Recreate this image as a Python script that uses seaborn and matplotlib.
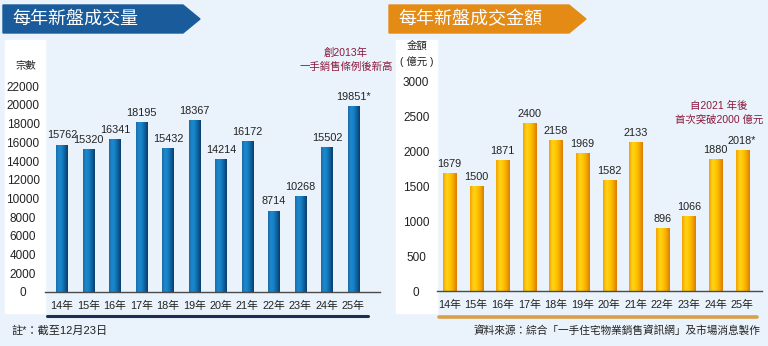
import numpy as np
import pandas as pd
import matplotlib
matplotlib.use("Agg")
import matplotlib.pyplot as plt
import seaborn as sns
from matplotlib.patches import Polygon, Rectangle
from matplotlib.lines import Line2D
from matplotlib.colors import LinearSegmentedColormap

# ---------------- data ----------------
years = ["14年", "15年", "16年", "17年", "18年", "19年", "20年", "21年", "22年", "23年", "24年", "25年"]
volume = [15762, 15320, 16341, 18195, 15432, 18367, 14214, 16172, 8714, 10268, 15502, 19851]
volume_labels = ["15762", "15320", "16341", "18195", "15432", "18367", "14214", "16172", "8714", "10268", "15502", "19851*"]
amount = [1679, 1500, 1871, 2400, 2158, 1969, 1582, 2133, 896, 1066, 1880, 2018]
amount_labels = ["1679", "1500", "1871", "2400", "2158", "1969", "1582", "2133", "896", "1066", "1880", "2018*"]
volume_ticks = list(range(0, 22001, 2000))
amount_ticks = list(range(0, 3001, 500))

title_left = "每年新盤成交量"
title_right = "每年新盤成交金額"
ylabel_left = "宗數"
ylabel_right = "金額\n( 億元 )"
note_left = "創2013年\n一手銷售條例後新高"
note_right = "自2021 年後\n首次突破2000 億元"
foot_left = "註*：截至12月23日"
foot_right = "資料來源：綜合「一手住宅物業銷售資訊網」及市場消息製作"

# ---------------- style ----------------
sns.set_theme(style="white")
plt.rcParams["font.family"] = ["Liberation Sans", "Noto Sans CJK TC", "DejaVu Sans"]
CJK = ["Noto Sans CJK TC", "DejaVu Sans"]

W, H = 768, 346
BG = "#eaf3fb"
fig = plt.figure(figsize=(W / 100, H / 100), dpi=100)
fig.patch.set_facecolor(BG)


def fx(x):
    return x / W


def fy(y):
    return 1 - y / H


def px_rect(x0, y0, x1, y1, **kw):
    fig.add_artist(Rectangle((fx(x0), fy(y1)), (x1 - x0) / W, (y1 - y0) / H,
                             transform=fig.transFigure, **kw))


# white strips for y tick labels
px_rect(5, 40, 45, 313, color="white", zorder=0)
px_rect(396, 40, 437, 313, color="white", zorder=0)

# banners
def banner(x0, x1, tip, color, text):
    pts = [(x0, 5), (x1, 5), (tip, 19), (x1, 33), (x0, 33)]
    fig.add_artist(Polygon([(fx(a), fy(b)) for a, b in pts], closed=True,
                           transform=fig.transFigure, color=color, zorder=1))
    fig.text(fx(x0 + 9), fy(19.5), text, color="white", fontsize=13,
             va="center", ha="left", zorder=2, family=CJK)


banner(3, 183, 200, "#1a5b9b", title_left)
banner(389, 569, 586, "#e48b15", title_right)

blue_cmap = LinearSegmentedColormap.from_list(
    "b", ["#1c6aa6", "#1b8ad0", "#1680c4", "#0f5f9c", "#0a3c6e"])
gold_cmap = LinearSegmentedColormap.from_list(
    "g", ["#f0a000", "#ffd21a", "#ffc800", "#f3a800", "#dc7a00"])


def draw_panel(ax, values, labels, ticks, color, cmap, xlim, ylim, ypad, bar_w):
    sns.barplot(x=years, y=values, ax=ax, color=color, width=bar_w,
                saturation=1, edgecolor="none")
    ax.set_facecolor("none")
    grad = np.linspace(0, 1, 64)[np.newaxis, :]
    for p in list(ax.patches):
        x0, y0 = p.get_x(), p.get_y()
        x1, y1 = x0 + p.get_width(), y0 + p.get_height()
        im = ax.imshow(grad, extent=[x0, x1, y0, y1], aspect="auto", cmap=cmap,
                       zorder=p.get_zorder() + 0.1, interpolation="bicubic")
        im.set_clip_path(p)
    ax.set_xlim(*xlim)
    ax.set_ylim(*ylim)
    ax.bar_label(ax.containers[0], labels=labels, padding=3, fontsize=7.8,
                 color="#222222")
    for s in ["top", "right", "left"]:
        ax.spines[s].set_visible(False)
    ax.spines["bottom"].set_color("#4a4a4a")
    ax.spines["bottom"].set_linewidth(1.0)
    ax.set_yticks(ticks)
    ax.set_yticklabels([str(t) for t in ticks])
    for lbl in ax.get_yticklabels():
        lbl.set_horizontalalignment("center")
    ax.tick_params(axis="y", length=0, pad=ypad, labelsize=8.5, labelcolor="#222222")
    ax.tick_params(axis="x", length=0, pad=6.5, labelsize=7.8, labelcolor="#222222")
    ax.set_xlabel("")
    ax.set_ylabel("")
    ax.grid(False)


ax1 = fig.add_axes([fx(45), fy(292), 335 / W, 252 / H])
draw_panel(ax1, volume, volume_labels, volume_ticks, "#1577b8", blue_cmap,
           (-0.64, 12.0), (0, 26950), 15.8, 0.45)

ax2 = fig.add_axes([fx(437), fy(291), 325 / W, 251 / H])
draw_panel(ax2, amount, amount_labels, amount_ticks, "#f5b800", gold_cmap,
           (-0.47, 11.75), (0, 3586), 15.0, 0.49)

# decorative lines below x labels
fig.add_artist(Line2D([fx(47), fx(368)], [fy(315.5)] * 2, color="#1b2e4f",
                      lw=2.2, transform=fig.transFigure))
fig.add_artist(Line2D([fx(439), fx(757)], [fy(316.5)] * 2, color="#d8a04a",
                      lw=2.6, transform=fig.transFigure))

# axis titles
fig.text(fx(26), fy(66), ylabel_left, fontsize=7.5, ha="center", va="center", color="#222222")
fig.text(fx(417), fy(54), ylabel_right, fontsize=7.5, ha="center", va="center",
         color="#222222", linespacing=1.5)

# annotations
fig.text(fx(346), fy(60), note_left, fontsize=7.5, ha="center", va="center",
         color="#8a1a3c", linespacing=1.5)
fig.text(fx(719), fy(113), note_right, fontsize=7.5, ha="center", va="center",
         color="#8a1a3c", linespacing=1.5)

# footnotes
fig.text(fx(12), fy(330), foot_left, fontsize=8, ha="left", va="center", color="#222222")
fig.text(fx(760), fy(330), foot_right, fontsize=7.7, ha="right", va="center", color="#222222")

fig.savefig("out.png", dpi=100, facecolor=BG)
